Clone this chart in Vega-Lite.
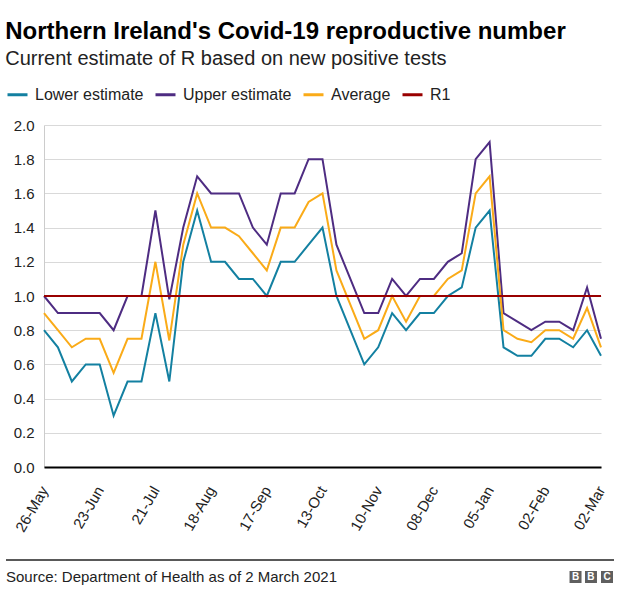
{
  "$schema": "https://vega.github.io/schema/vega-lite/v6.json",
  "background": "white",
  "padding": {"left": 5, "top": 20, "right": 10, "bottom": 5},
  "config": {"font": "Liberation Sans", "view": {"stroke": null}, "axisY": {"labelOverlap": false}},
  "title": {
    "text": "Northern Ireland's Covid-19 reproductive number",
    "subtitle": "Current estimate of R based on new positive tests",
    "anchor": "start",
    "frame": "bounds",
    "fontSize": 24,
    "fontWeight": "bold",
    "color": "#000000",
    "subtitleFontSize": 20,
    "subtitleColor": "#222222",
    "subtitlePadding": 5,
    "offset": 14
  },
  "spacing": 24,
  "vconcat": [
    {
      "width": 557,
      "height": 342,
      "layer": [
        {
          "data": {
            "values": [
              {"date": "26-May", "Lower estimate": 0.8, "Upper estimate": 1.0, "Average": 0.9},
              {"date": "02-Jun", "Lower estimate": 0.7, "Upper estimate": 0.9, "Average": 0.8},
              {"date": "09-Jun", "Lower estimate": 0.5, "Upper estimate": 0.9, "Average": 0.7},
              {"date": "16-Jun", "Lower estimate": 0.6, "Upper estimate": 0.9, "Average": 0.75},
              {"date": "23-Jun", "Lower estimate": 0.6, "Upper estimate": 0.9, "Average": 0.75},
              {"date": "30-Jun", "Lower estimate": 0.3, "Upper estimate": 0.8, "Average": 0.55},
              {"date": "07-Jul", "Lower estimate": 0.5, "Upper estimate": 1.0, "Average": 0.75},
              {"date": "14-Jul", "Lower estimate": 0.5, "Upper estimate": 1.0, "Average": 0.75},
              {"date": "21-Jul", "Lower estimate": 0.9, "Upper estimate": 1.5, "Average": 1.2},
              {"date": "28-Jul", "Lower estimate": 0.5, "Upper estimate": 0.98, "Average": 0.74},
              {"date": "04-Aug", "Lower estimate": 1.2, "Upper estimate": 1.4, "Average": 1.3},
              {"date": "11-Aug", "Lower estimate": 1.5, "Upper estimate": 1.7, "Average": 1.6},
              {"date": "18-Aug", "Lower estimate": 1.2, "Upper estimate": 1.6, "Average": 1.4},
              {"date": "25-Aug", "Lower estimate": 1.2, "Upper estimate": 1.6, "Average": 1.4},
              {"date": "01-Sep", "Lower estimate": 1.1, "Upper estimate": 1.6, "Average": 1.35},
              {"date": "08-Sep", "Lower estimate": 1.1, "Upper estimate": 1.4, "Average": 1.25},
              {"date": "17-Sep", "Lower estimate": 1.0, "Upper estimate": 1.3, "Average": 1.15},
              {"date": "22-Sep", "Lower estimate": 1.2, "Upper estimate": 1.6, "Average": 1.4},
              {"date": "29-Sep", "Lower estimate": 1.2, "Upper estimate": 1.6, "Average": 1.4},
              {"date": "06-Oct", "Lower estimate": 1.3, "Upper estimate": 1.8, "Average": 1.55},
              {"date": "13-Oct", "Lower estimate": 1.4, "Upper estimate": 1.8, "Average": 1.6},
              {"date": "20-Oct", "Lower estimate": 1.0, "Upper estimate": 1.3, "Average": 1.15},
              {"date": "27-Oct", "Lower estimate": 0.8, "Upper estimate": 1.1, "Average": 0.95},
              {"date": "03-Nov", "Lower estimate": 0.6, "Upper estimate": 0.9, "Average": 0.75},
              {"date": "10-Nov", "Lower estimate": 0.7, "Upper estimate": 0.9, "Average": 0.8},
              {"date": "17-Nov", "Lower estimate": 0.9, "Upper estimate": 1.1, "Average": 1.0},
              {"date": "24-Nov", "Lower estimate": 0.8, "Upper estimate": 1.0, "Average": 0.85},
              {"date": "01-Dec", "Lower estimate": 0.9, "Upper estimate": 1.1, "Average": 1.0},
              {"date": "08-Dec", "Lower estimate": 0.9, "Upper estimate": 1.1, "Average": 1.0},
              {"date": "15-Dec", "Lower estimate": 1.0, "Upper estimate": 1.2, "Average": 1.1},
              {"date": "22-Dec", "Lower estimate": 1.05, "Upper estimate": 1.25, "Average": 1.15},
              {"date": "29-Dec", "Lower estimate": 1.4, "Upper estimate": 1.8, "Average": 1.6},
              {"date": "05-Jan", "Lower estimate": 1.5, "Upper estimate": 1.9, "Average": 1.7},
              {"date": "12-Jan", "Lower estimate": 0.7, "Upper estimate": 0.9, "Average": 0.8},
              {"date": "19-Jan", "Lower estimate": 0.65, "Upper estimate": 0.85, "Average": 0.75},
              {"date": "26-Jan", "Lower estimate": 0.65, "Upper estimate": 0.8, "Average": 0.73},
              {"date": "02-Feb", "Lower estimate": 0.75, "Upper estimate": 0.85, "Average": 0.8},
              {"date": "09-Feb", "Lower estimate": 0.75, "Upper estimate": 0.85, "Average": 0.8},
              {"date": "16-Feb", "Lower estimate": 0.7, "Upper estimate": 0.8, "Average": 0.75},
              {"date": "23-Feb", "Lower estimate": 0.8, "Upper estimate": 1.05, "Average": 0.93},
              {"date": "02-Mar", "Lower estimate": 0.65, "Upper estimate": 0.75, "Average": 0.7}
            ]
          },
          "transform": [{"fold": ["Lower estimate", "Upper estimate", "Average"], "as": ["series", "value"]}],
          "mark": {"type": "line", "strokeWidth": 2},
          "encoding": {
            "x": {
              "field": "date",
              "type": "ordinal",
              "sort": null,
              "scale": {"type": "point", "padding": 0},
              "axis": {
                "values": ["26-May", "23-Jun", "21-Jul", "18-Aug", "17-Sep", "13-Oct", "10-Nov", "08-Dec", "05-Jan", "02-Feb", "02-Mar"],
                "labelAngle": -60,
                "labelAlign": "right",
                "labelBaseline": "middle",
                "labelFontSize": 15,
                "labelColor": "#222222",
                "labelPadding": 20,
                "labelDx": 11,
                "ticks": false,
                "grid": false,
                "domainColor": "#000000",
                "domainWidth": 2,
                "title": null,
                "zindex": 1
              }
            },
            "y": {
              "field": "value",
              "type": "quantitative",
              "scale": {"domain": [0, 2]},
              "axis": {
                "values": [0, 0.2, 0.4, 0.6, 0.8, 1.0, 1.2, 1.4, 1.6, 1.8, 2.0],
                "format": ".1f",
                "labelOverlap": false,
                "labelFontSize": 15,
                "labelColor": "#222222",
                "labelPadding": 10,
                "ticks": false,
                "domainColor": "#cccccc",
                "gridColor": "#d9d9d9",
                "title": null
              }
            },
            "color": {
              "field": "series",
              "type": "nominal",
              "scale": {
                "domain": ["Lower estimate", "Upper estimate", "Average", "R1"],
                "range": ["#1380A1", "#4E2C82", "#FAAB18", "#990000"]
              },
              "legend": {
                "orient": "none",
                "legendX": -38,
                "legendY": -42,
                "direction": "horizontal",
                "title": null,
                "symbolType": "stroke",
                "symbolSize": 400,
                "symbolStrokeWidth": 3,
                "labelFontSize": 16,
                "labelColor": "#222222",
                "labelOffset": 6,
                "columnPadding": 5
              }
            }
          }
        },
        {
          "data": {"values": [{}]},
          "mark": {"type": "rule", "strokeWidth": 2},
          "encoding": {
            "y": {
              "datum": 1,
              "type": "quantitative",
              "axis": {
                "values": [0, 0.2, 0.4, 0.6, 0.8, 1.0, 1.2, 1.4, 1.6, 1.8, 2.0],
                "format": ".1f",
                "labelOverlap": false,
                "labelFontSize": 15,
                "labelColor": "#222222",
                "labelPadding": 10,
                "ticks": false,
                "domainColor": "#cccccc",
                "gridColor": "#d9d9d9",
                "title": null
              }
            },
            "color": {"datum": "R1"}
          }
        }
      ]
    },
    {
      "width": 570,
      "height": 34,
      "data": {"values": [{}]},
      "layer": [
        {
          "mark": {"type": "rule", "color": "#222222", "strokeWidth": 1.5},
          "encoding": {
            "x": {"datum": -0.0667, "type": "quantitative", "scale": {"domain": [0, 1]}, "axis": null},
            "x2": {"datum": 1},
            "y": {"datum": 1, "type": "quantitative", "scale": {"domain": [0, 1]}, "axis": null}
          }
        },
        {
          "mark": {"type": "text", "text": "Source: Department of Health as of 2 March 2021", "align": "left", "baseline": "middle", "fontSize": 15, "color": "#222222"},
          "encoding": {
            "x": {"datum": -0.0667, "type": "quantitative"},
            "y": {"datum": 0.5, "type": "quantitative"}
          }
        },
        {
          "encoding": {"x": {"datum": 0.9325, "type": "quantitative"}, "y": {"datum": 0.5, "type": "quantitative"}},
          "layer": [
            {"mark": {"type": "square", "size": 144, "color": "#5f5f5f", "opacity": 1}},
            {"mark": {"type": "text", "text": "B", "fontWeight": "bold", "fontSize": 10, "color": "white", "baseline": "middle", "align": "center"}}
          ]
        },
        {
          "encoding": {"x": {"datum": 0.9596, "type": "quantitative"}, "y": {"datum": 0.5, "type": "quantitative"}},
          "layer": [
            {"mark": {"type": "square", "size": 144, "color": "#5f5f5f", "opacity": 1}},
            {"mark": {"type": "text", "text": "B", "fontWeight": "bold", "fontSize": 10, "color": "white", "baseline": "middle", "align": "center"}}
          ]
        },
        {
          "encoding": {"x": {"datum": 0.9877, "type": "quantitative"}, "y": {"datum": 0.5, "type": "quantitative"}},
          "layer": [
            {"mark": {"type": "square", "size": 144, "color": "#5f5f5f", "opacity": 1}},
            {"mark": {"type": "text", "text": "C", "fontWeight": "bold", "fontSize": 10, "color": "white", "baseline": "middle", "align": "center"}}
          ]
        }
      ]
    }
  ]
}
